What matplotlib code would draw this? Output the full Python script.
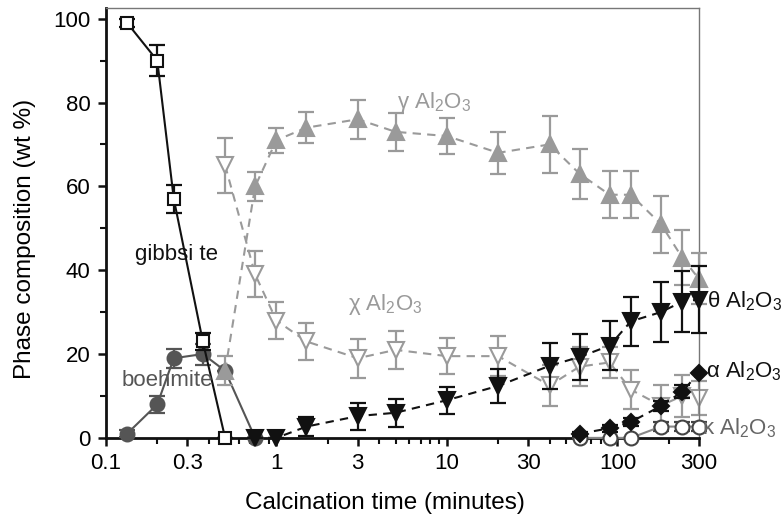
import numpy as np
import matplotlib
matplotlib.use("Agg")
import matplotlib.pyplot as plt
from matplotlib.ticker import FixedLocator, LogLocator, MultipleLocator, NullFormatter

plt.rcParams['font.family'] = ['Liberation Sans', 'DejaVu Sans']
plt.rcParams['mathtext.fontset'] = 'custom'
plt.rcParams['mathtext.rm'] = 'Liberation Sans'
plt.rcParams['mathtext.it'] = 'Liberation Sans'

# calcination time (minutes) and phase contents (wt %)
t_gib = [0.133, 0.2, 0.25, 0.37, 0.5]
gib = [99, 90, 57, 23, 0]
gib_err = [1, 3.6, 3.4, 2, 0]

t_boe = [0.133, 0.2, 0.25, 0.37, 0.5, 0.75]
boe = [1, 8, 19, 20, 16, 0]
boe_err = [0.8, 2, 2.3, 2.5, 0, 0]

t_long = [0.5, 0.75, 1, 1.5, 3, 5, 10, 20, 40, 60, 90, 120, 180, 240, 300]
gam = [16, 60, 71, 74, 76, 73, 72, 68, 70, 63, 58, 58, 51, 43, 38]
gam_err = [3.5, 3.5, 3, 3.7, 4.7, 4.5, 4.3, 5, 6.8, 6, 5.6, 5.6, 6.8, 6.5, 6]
chi = [65, 39, 28, 23, 19, 21, 19.5, 19.5, 12.5, 17, 18, 11.5, 7.7, 10, 9.5]
chi_err = [6.6, 5.5, 4.5, 4.5, 4.7, 4.5, 4.3, 4.8, 5, 4.6, 3.7, 4.7, 5, 5, 4]

t_the = [0.75, 1, 1.5, 3, 5, 10, 20, 40, 60, 90, 120, 180, 240, 300]
the = [0, 0, 2.7, 5.2, 6, 9, 12.4, 17.2, 19.3, 22, 27.8, 30, 32.5, 33]
the_err = [0, 0, 2.2, 3.2, 3.3, 3.2, 4, 5.5, 5.6, 5.8, 5.9, 7.2, 7.3, 8]

t_late = [60, 90, 120, 180, 240, 300]
alp = [1, 2.3, 3.8, 7.6, 11, 15.5]
alp_err = [0.5, 0.8, 1, 1.2, 1.5, 0]
kap = [0, 0, 0, 2.7, 2.7, 2.7]
kap_err = [0, 0, 0, 1, 1, 1]

xticks = [0.1, 0.3, 1, 3, 10, 30, 100, 300]
xticklabels = ['0.1', '0.3', '1', '3', '10', '30', '100', '300']

GRAY = '#9a9a9a'
DARK = '#555555'
BLACK = '#111111'

fig = plt.figure(figsize=(7.82, 5.17), dpi=100)
ax = fig.add_axes([0.1355, 0.153, 0.758, 0.832])

def series(x, y, err, marker, mfc, mec, ls, lc, ms, z):
	eb = ax.errorbar(x, y, yerr=err, fmt='none', ecolor=mec, elinewidth=1.6,
		capsize=6, capthick=1.6, zorder=z)
	for c in eb.get_children():
		c.set_clip_on(False)
	ax.plot(x, y, ls=ls, color=lc, lw=1.5, zorder=z, clip_on=False,
		dashes=(4, 3) if ls == '--' else (None, None))
	ax.plot(x, y, ls='none', marker=marker, ms=ms, mfc=mfc, mec=mec,
		mew=1.5, zorder=z + 0.5, clip_on=False)

ax.set_xscale('log')

series(t_long, chi, chi_err, 'v', 'white', GRAY, '--', GRAY, 11, 2)
series(t_boe, boe, boe_err, 'o', DARK, DARK, '-', DARK, 10, 3)
series(t_long, gam, gam_err, '^', GRAY, GRAY, '--', GRAY, 11, 4)
series(t_late, kap, kap_err, 'o', 'white', '#444444', '-', '#888888', 10, 5)
series(t_the, the, the_err, 'v', BLACK, BLACK, '--', BLACK, 11, 6)
series(t_late, alp, alp_err, 'D', BLACK, BLACK, '--', BLACK, 8, 7)
series(t_gib, gib, gib_err, 's', 'white', BLACK, '-', BLACK, 9, 8)

fs = 16
ax.text(5.1, 80, 'γ Al$_2$O$_3$', color=GRAY, fontsize=fs, va='center', zorder=10)
ax.text(2.62, 31.7, 'χ Al$_2$O$_3$', color=GRAY, fontsize=fs, va='center', zorder=10)
ax.text(336, 32.5, 'θ Al$_2$O$_3$', color=BLACK, fontsize=fs, va='center', zorder=10)
ax.text(333, 16, 'α Al$_2$O$_3$', color=BLACK, fontsize=fs, va='center', zorder=10)
ax.text(312, 2.3, 'κ Al$_2$O$_3$', color='#666666', fontsize=fs, va='center', zorder=10)
ax.text(0.26, 43.7, 'gibbsi te', color=BLACK, fontsize=fs, ha='center', va='center', zorder=10)
ax.text(0.228, 13.6, 'boehmite', color=DARK, fontsize=fs, ha='center', va='center', zorder=10)

ax.set_xlim(0.1, 300)
ax.set_ylim(0, 102.6)
ax.xaxis.set_major_locator(FixedLocator(xticks))
ax.set_xticklabels(xticklabels)
ax.xaxis.set_minor_locator(LogLocator(subs=np.arange(2, 10)))
ax.xaxis.set_minor_formatter(NullFormatter())
ax.yaxis.set_major_locator(MultipleLocator(20))
ax.yaxis.set_minor_locator(MultipleLocator(10))
ax.tick_params(which='major', direction='out', length=6, width=1.8, labelsize=16, color=BLACK)
ax.tick_params(axis='x', which='major', pad=5)
ax.tick_params(axis='y', which='major', pad=5)
ax.tick_params(which='minor', direction='out', length=4, width=1.5, color=BLACK)

for s in ['left', 'bottom']:
	ax.spines[s].set_linewidth(2)
	ax.spines[s].set_color(BLACK)
for s in ['top', 'right']:
	ax.spines[s].set_linewidth(1)
	ax.spines[s].set_color('#777777')

ax.set_xlabel('Calcination time (minutes)', fontsize=17.5)
ax.xaxis.set_label_coords(0.47, -0.125)
ax.set_ylabel('Phase composition (wt %)', fontsize=17.5)
ax.yaxis.set_label_coords(-0.118, 0.463)

fig.savefig('out.png', dpi=100)
